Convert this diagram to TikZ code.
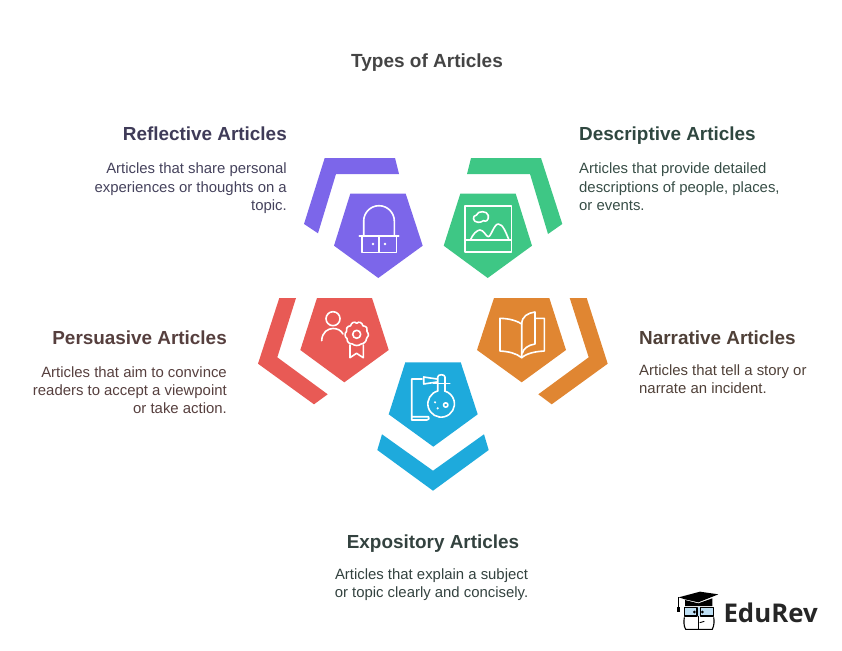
\documentclass[tikz,border=0pt]{standalone}
\usepackage{fontspec}
\setmainfont{Liberation Sans}
\newfontfamily\logofont{Open Sans}
\definecolor{cpurple}{HTML}{7C66EA}
\definecolor{cgreen}{HTML}{3EC785}
\definecolor{cred}{HTML}{E85A55}
\definecolor{corange}{HTML}{E08632}
\definecolor{cblue}{HTML}{1EAADC}
\definecolor{tpurple}{HTML}{3F3B58}
\definecolor{tgreen}{HTML}{2F4740}
\definecolor{tred}{HTML}{563F3E}
\definecolor{torange}{HTML}{4F4038}
\definecolor{tblue}{HTML}{33423F}
\definecolor{ttitle}{HTML}{444444}
\definecolor{glass}{HTML}{BFE0F5}
\tikzset{
  titletext/.style={inner sep=0pt,font=\fontsize{19}{23}\selectfont\bfseries,text=ttitle},
  headtext/.style={inner sep=0pt,font=\fontsize{18.9}{23}\selectfont\bfseries},
  bodytext/.style={inner sep=0pt,font=\fontsize{14.9}{18.2}\selectfont},
  icon/.style={draw=white,line width=1.6pt,line join=round,line cap=round},
  dotfill/.style={fill=white,draw=none},
  logoline/.style={draw=black,line width=0.9pt,line join=round}
}
\begin{document}
\begin{tikzpicture}[x=1pt,y=-1pt]
\useasboundingbox (0,0) rectangle (842,650);
% bands and pentagons
\fill[cpurple] (324.7,158)--(395,158)--(399,174)--(336,174)--(318,233.3)--(304,224)--cycle;
\fill[cpurple] (350.3,193.7)--(405.7,193.7)--(422.7,245.7)--(378.3,278)--(334,245.7)--cycle;
\fill[cgreen] (471,158)--(541,158)--(562.3,224)--(548,234)--(530,174)--(467,174)--cycle;
\fill[cgreen] (460.3,193.7)--(515.7,193.7)--(532,245.7)--(487.7,278)--(443.7,245.7)--cycle;
\fill[cred] (279.3,298)--(296,298)--(277.3,357.3)--(327.7,394.3)--(314,404.3)--(258,363.7)--cycle;
\fill[cred] (317,298)--(372,298)--(388.7,350)--(344.3,382.3)--(300.3,350)--cycle;
\fill[corange] (569.7,298)--(586.7,298)--(607.7,363.7)--(551.7,404.3)--(538.3,394.3)--(588.7,357.3)--cycle;
\fill[corange] (494,298)--(549.3,298)--(566,350)--(521.7,382.3)--(477,350)--cycle;
\fill[cblue] (382,434.3)--(433,470.7)--(484,434.3)--(488.7,450)--(433,490.7)--(377.3,450)--cycle;
\fill[cblue] (405.3,362.3)--(460.7,362.3)--(477.7,414.3)--(433.3,446.7)--(388.7,414.3)--cycle;
% arch icon
\draw[icon] (363.7,235.7)--(363.7,221) arc[start angle=180,end angle=360,radius=15.3]--(394.3,235.7);
\draw[icon] (359.3,235.7)--(398.7,235.7);
\draw[icon] (361.7,235.7)--(361.7,252.3)--(396.3,252.3)--(396.3,235.7);
\draw[icon] (379,235.7)--(379,252.3);
\fill[dotfill] (373,244) circle (1.4) (385,244) circle (1.4);
% picture icon
\draw[icon] (464.7,205.7) rectangle (511.3,251.7);
\draw[icon] (464.7,240)--(511.3,240);
\draw[icon] (470.7,239.3) .. controls (473,234) and (477,230) .. (480,230) .. controls (484,230) and (486,236.7) .. (488.3,236.7) .. controls (491,236.7) and (494,224) .. (498.3,224) .. controls (503,224) and (506,233) .. (508.7,239.3);
\draw[icon] (478,222.3) .. controls (472.5,222.3) and (472,215.5) .. (476.5,215) .. controls (477.5,210.5) and (487.5,210.5) .. (488.3,215.5) .. controls (489,220) and (486,222.3) .. (483.5,220.7) .. controls (482,222) and (480,222.3) .. (478,222.3) -- cycle;
% person and rosette icon
\draw[icon] (333,318.7) circle (7);
\draw[icon] (321.7,340.7) .. controls (322,332) and (328,328.5) .. (333,328.5) .. controls (337,328.5) and (341,330) .. (343,334);
\draw[icon] (356.7,323.3) .. controls (359,321) and (362,322.5) .. (363,325.8) .. controls (367,326) and (368,329.5) .. (367,331.5) .. controls (369,334) and (369,337) .. (366.5,338.5) .. controls (366.5,342) and (363,344) .. (361,344) .. controls (359,346) and (354.5,346) .. (352.5,344) .. controls (349,344) and (347,342) .. (347,338.5) .. controls (344.5,337) and (344.5,333) .. (346.5,331.5) .. controls (345.5,329) and (347,326) .. (350.5,325.8) .. controls (351.5,322.5) and (354.5,321) .. (356.7,323.3) -- cycle;
\draw[icon] (356.7,334.3) circle (4);
\draw[icon] (350,345)--(350,357.7)--(356.5,353.3)--(363.3,357.7)--(363.3,345);
% book icon
\draw[icon] (521.7,324) .. controls (514,319) and (505,318.5) .. (500,318.3) -- (500,351) .. controls (508,351.5) and (516,353) .. (521.7,357.7) -- cycle;
\draw[icon] (521.7,357.7) .. controls (527,353) and (536,351.5) .. (544.3,351) -- (544.3,318.3) -- (535,318.3);
\draw[icon] (521.7,324) .. controls (522,316) and (528,313) .. (535,312) -- (535,344) .. controls (528,345) and (523,349) .. (522.5,353);
% flask icon
\draw[icon] (422,379) -- (411.7,379) -- (411.7,420) -- (427,420) .. controls (429,420) and (429.5,418) .. (428.5,416.7) -- (411.7,416.7);
\draw[icon] (423.7,377) -- (423.7,384) -- (437,382);
\draw[icon] (423.7,377) -- (437,379);
\draw[icon] (437.7,391) -- (437.7,377) .. controls (437.7,374) and (445,374) .. (445,377) -- (445,391);
\draw[icon] (433.3,383.3) -- (449.7,383.3);
\draw[icon] (437.7,391) arc[start angle=255,end angle=-75,radius=13.3] ;
\draw[icon] (445.7,405) circle (2.2);
\fill[dotfill] (435,402.3) circle (1.2) (437.7,408.3) circle (1.2);
% texts
\node[titletext,anchor=base] (title) at (427,67.5) {Types of Articles};
\node[headtext,text=tpurple,anchor=base east] (h1) at (287,140) {Reflective Articles};
\node[bodytext,text=tpurple!90!gray,anchor=north east,align=right] (b1) at (287,163) {Articles that share personal\\experiences or thoughts on a\\topic.};
\node[headtext,text=tgreen,anchor=base west] (h2) at (579,140) {Descriptive Articles};
\node[bodytext,text=tgreen!90!gray,anchor=north west,align=left] (b2) at (579,163) {Articles that provide detailed\\descriptions of people, places,\\or events.};
\node[headtext,text=tred,anchor=base east] (h3) at (227,344) {Persuasive Articles};
\node[bodytext,text=tred,anchor=north east,align=right] (b3) at (227,366.5) {Articles that aim to convince\\readers to accept a viewpoint\\or take action.};
\node[headtext,text=torange,anchor=base west] (h4) at (639,344) {Narrative Articles};
\node[bodytext,text=torange,anchor=north west,align=left] (b4) at (639,364) {Articles that tell a story or\\narrate an incident.};
\node[headtext,text=tblue,anchor=base] (h5) at (433,548) {Expository Articles};
\node[bodytext,text=tblue,anchor=north,align=center] (b5) at (431.5,568) {Articles that explain a subject\\or topic clearly and concisely.};
% logo
\begin{scope}[shift={(665,580)},x=0.3333pt,y=-0.3333pt]
\fill[black] (41,52)--(105,35)--(160,43)--(100,67)--(60,58)--cycle;
\fill[black] (60,60)--(100,70)--(142,55)--(142,78)--(60,78)--cycle;
\draw[logoline] (41,52)--(41,82);
\fill[black] (37,82) rectangle (45,95);
\fill[glass] (58,82) rectangle (146,108);
\draw[logoline,line width=1.1pt] (58,82) rectangle (96,108) (106,82) rectangle (146,108);
\draw[logoline,line width=1.1pt] (58,112) .. controls (56,125) and (56,138) .. (62,148) -- (142,148) .. controls (148,135) and (148,122) .. (146,112);
\draw[logoline] (100,108)--(100,148);
\fill[black] (88,96) circle (4.5) (112,96) circle (4.5);
\draw[logoline] (104,128)--(118,124);
\node[anchor=west,inner sep=0pt,font=\fontsize{25.8}{30}\logofont\bfseries\selectfont,text=black!85] (logo) at (175,99) {EduRev};
\end{scope}
\end{tikzpicture}
\end{document}
